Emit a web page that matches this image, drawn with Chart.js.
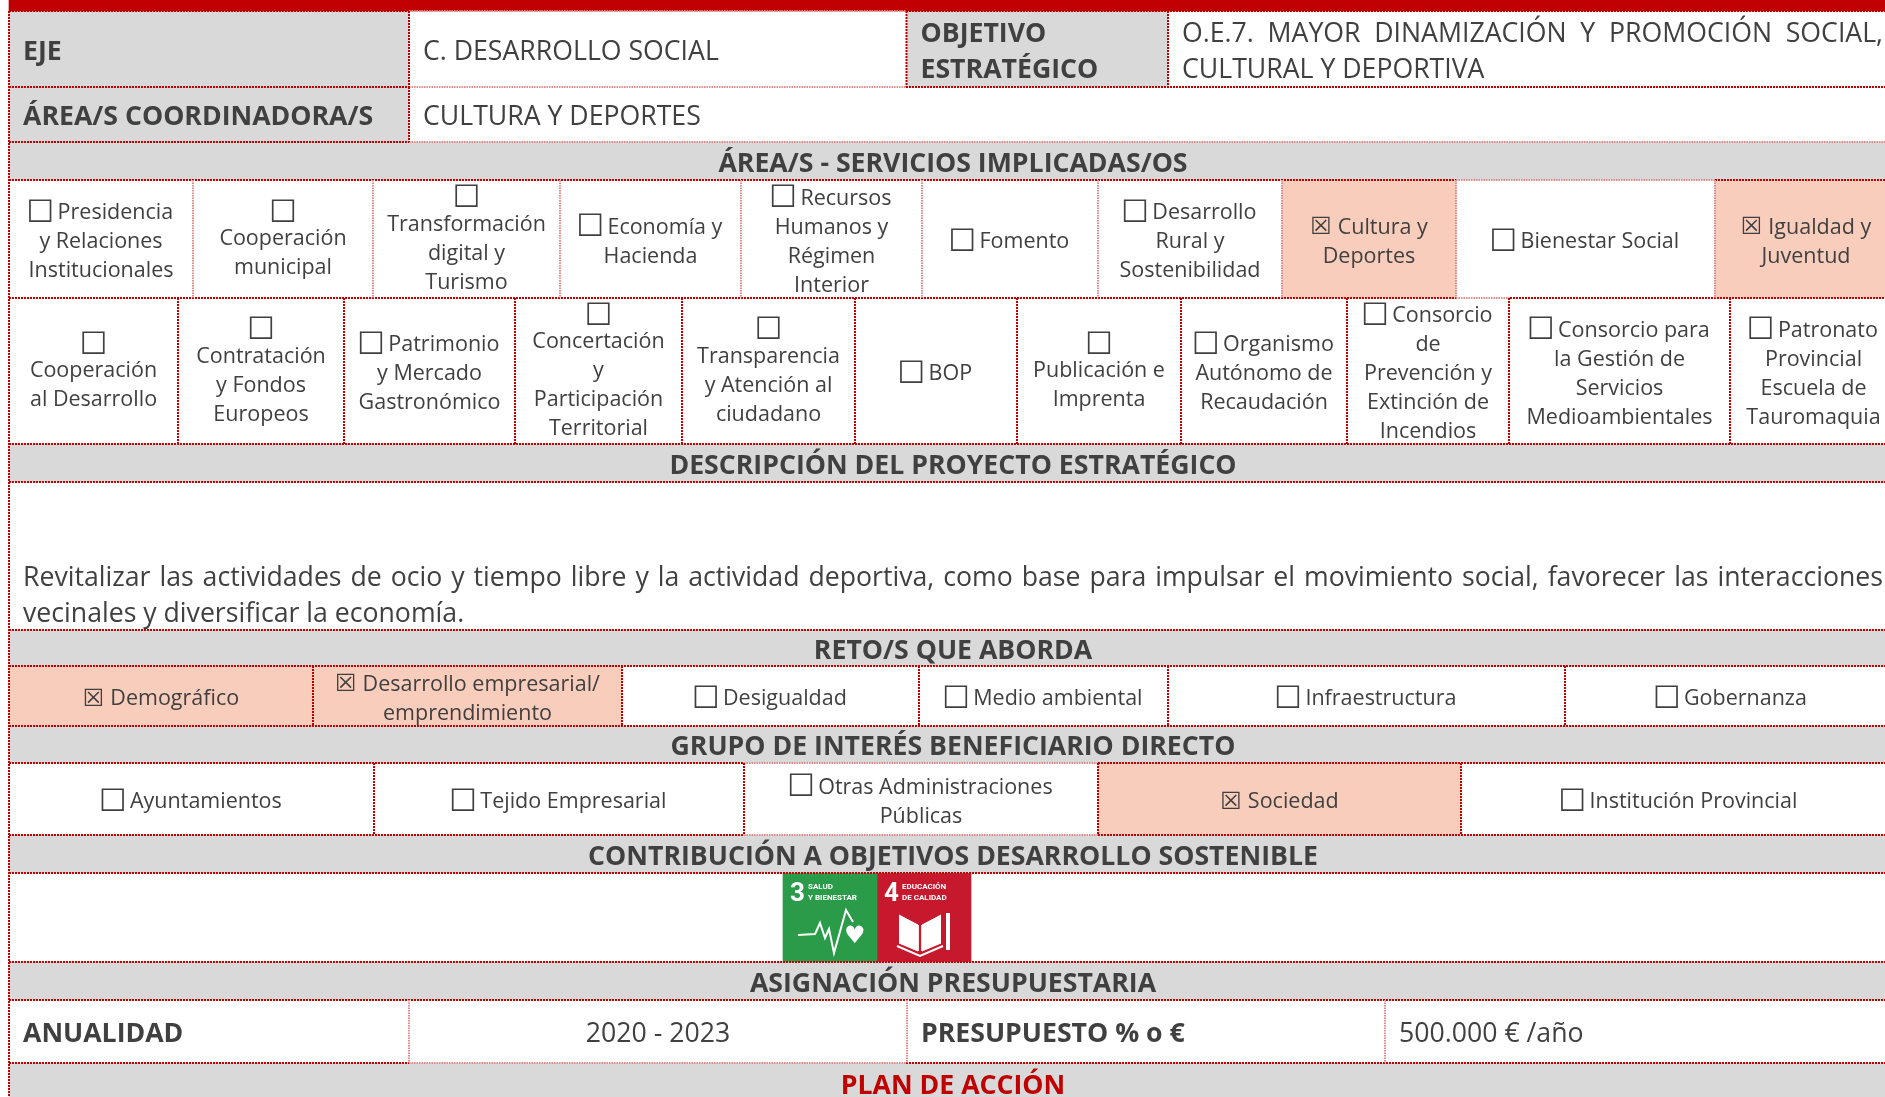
<!DOCTYPE html>
<html lang="es">
<head>
<meta charset="utf-8">
<title>Proyecto estratégico</title>
<script src="https://cdn.jsdelivr.net/npm/chart.js@4/dist/chart.umd.js"></script>
<style>
  html, body { margin: 0; padding: 0; background: #fff; overflow: hidden; }
  canvas { display: block; }
</style>
</head>
<body>
<canvas id="sheet" width="1885" height="1097"></canvas>
<script>
// Row limits on the y axis (top to bottom)
const rowLimits = [0, 11, 87, 142, 180, 298, 444, 482, 630, 666, 726, 763, 835, 873, 962, 1000, 1063, 1097];

// Column limits on the x axis for each row, and what is written in the cells
const topEdges = [9, 409, 906.5, 1168, 1897];
const topLabels = ['EJE', 'C. DESARROLLO SOCIAL', 'OBJETIVO\nESTRATÉGICO', 'O.E.7. MAYOR DINAMIZACIÓN Y PROMOCIÓN SOCIAL,\nCULTURAL Y DEPORTIVA'];
const coordEdges = [9, 409, 1897];
const coordLabels = ['ÁREA/S COORDINADORA/S', 'CULTURA Y DEPORTES'];

const servicesAEdges = [9, 193, 373, 560, 741, 922, 1098, 1282, 1456, 1715, 1897];
const servicesALabels = [
  '☐ Presidencia\ny Relaciones\nInstitucionales', '☐\nCooperación\nmunicipal', '☐\nTransformación\ndigital y\nTurismo',
  '☐ Economía y\nHacienda', '☐ Recursos\nHumanos y\nRégimen\nInterior', '☐ Fomento', '☐ Desarrollo\nRural y\nSostenibilidad',
  '☒ Cultura y\nDeportes', '☐ Bienestar Social', '☒ Igualdad y\nJuventud'
];
const servicesBEdges = [9, 178, 344, 515, 682, 855, 1017, 1181, 1347, 1509, 1730, 1897];
const servicesBLabels = [
  '☐\nCooperación\nal Desarrollo', '☐\nContratación\ny Fondos\nEuropeos', '☐ Patrimonio\ny Mercado\nGastronómico',
  '☐\nConcertación\ny\nParticipación\nTerritorial', '☐\nTransparencia\ny Atención al\nciudadano', '☐ BOP', '☐\nPublicación e\nImprenta',
  '☐ Organismo\nAutónomo de\nRecaudación', '☐ Consorcio\nde\nPrevención y\nExtinción de\nIncendios',
  '☐ Consorcio para\nla Gestión de\nServicios\nMedioambientales', '☐ Patronato\nProvincial\nEscuela de\nTauromaquia'
];
const descriptionLines = 'Revitalizar las actividades de ocio y tiempo libre y la actividad deportiva, como base para impulsar el movimiento social, favorecer las interacciones\nvecinales y diversificar la economía.';
const retoEdges = [9, 313, 622, 919, 1168, 1565, 1897];
const retoLabels = ['☒ Demográfico', '☒ Desarrollo empresarial/\nemprendimiento', '☐ Desigualdad', '☐ Medio ambiental', '☐ Infraestructura', '☐ Gobernanza'];
const grupoEdges = [9, 374, 744, 1098, 1461, 1897];
const grupoLabels = ['☐ Ayuntamientos', '☐ Tejido Empresarial', '☐ Otras Administraciones\nPúblicas', '☒ Sociedad', '☐ Institución Provincial'];
const budgetEdges = [9, 409, 907, 1385, 1897];
const budgetLabels = ['ANUALIDAD', '2020 - 2023', 'PRESUPUESTO % o €', '500.000 € /año'];

const headings = [
  ['ÁREA/S - SERVICIOS IMPLICADAS/OS', 142, 180],
  ['DESCRIPCIÓN DEL PROYECTO ESTRATÉGICO', 444, 482],
  ['RETO/S QUE ABORDA', 630, 666],
  ['GRUPO DE INTERÉS BENEFICIARIO DIRECTO', 726, 763],
  ['CONTRIBUCIÓN A OBJETIVOS DESARROLLO SOSTENIBLE', 835, 873],
  ['ASIGNACIÓN PRESUPUESTARIA', 962, 1000],
  ['PLAN DE ACCIÓN', 1063, 1103]
];

// Dotted rules: [y, from, to, pale]
const horizontalRules = [
  [11, 9, 409, 0], [11, 409, 906, 1], [11, 906, 1885, 0],
  [87, 9, 409, 0], [87, 409, 906, 1], [87, 906, 1885, 0],
  [142, 9, 409, 0], [142, 409, 1885, 1],
  [180, 9, 1456, 0], [180, 1456, 1715, 1], [180, 1715, 1885, 0],
  [298, 9, 1456, 0], [298, 1456, 1510, 1], [298, 1510, 1885, 0],
  [444, 9, 1885, 0], [482, 9, 1885, 0], [630, 9, 1885, 0], [666, 9, 1885, 0], [726, 9, 1885, 0],
  [763, 9, 744, 0], [763, 744, 1098, 1], [763, 1098, 1885, 0],
  [835, 9, 744, 0], [835, 744, 1098, 1], [835, 1098, 1885, 0],
  [873, 9, 1885, 0], [962, 9, 1885, 0], [1000, 9, 1885, 0],
  [1063, 9, 409, 0], [1063, 409, 906, 1], [1063, 906, 1885, 0]
];

// SDG tiles: green "salud", red "educación" and the marks inside them
const tileEdges = [783, 877, 971];
const tileColors = ['#2A9C49', '#C6192D'];
const tileTexts = [['3', 'SALUD', 'Y BIENESTAR'], ['4', 'EDUCACIÓN', 'DE CALIDAD']];
const pulseX = [798, 815, 820, 825, 829, 834, 846, 853];
const pulseY = [935, 934, 923, 938, 929, 953, 910, 922];
const leftPageX = [899, 918, 918, 899];
const rightPageX = [941, 922, 922, 941];
const pageY = [915, 925, 951, 943];
const bookBaseX = [897, 920, 943];
const bookBaseY = [946, 956, 946];
const pencilX = [948, 948];
const pencilY = [913, 950];

const GREY = '#D9D9D9';
const PINK = '#F9CDBC';
const RED = '#C00000';
const INK = '#404040';

const datasets = [];
const cells = [];

// a filled floating bar running from x0 to x1 across a y band
const addBand = (x0, x1, y0, y1, color) => {
  datasets.push({
    type: 'bar',
    indexAxis: 'y',
    grouped: false,
    order: 3,
    data: [{ x: [x0, x1], y: (y0 + y1) / 2 }],
    barThickness: y1 - y0,
    backgroundColor: color,
    borderWidth: 0
  });
};

const addRule = (xs, ys, pale) => {
  datasets.push({
    type: 'line',
    order: 1,
    data: xs.map((x, i) => ({ x, y: ys[i] })),
    borderColor: pale ? '#E58A8A' : RED,
    borderWidth: 2,
    borderDash: pale ? [1.5, 1] : [2, 1],
    pointRadius: 0,
    tension: 0,
    fill: false
  });
};

const addRow = (edges, labels, y0, y1, style = {}) => {
  labels.forEach((text, i) => {
    const x0 = edges[i], x1 = edges[i + 1];
    if (text.startsWith('☒')) addBand(x0, x1, y0, y1, PINK);
    if (i > 0) addRule([x0, x0], [y0, y1], style.paleRules);
    cells.push({ text, x0, x1, y0, y1, size: 21.5, pitch: 29, ...(style.cell ? style.cell(i) : {}) });
  });
};

// Header rows: grey label cells with bold text, plain values beside them
const bigCell = i => ({ size: 26.67, pitch: 36, bold: i % 2 === 0, align: 'left' });

addBand(9, 1897, rowLimits[0], rowLimits[1], RED);
addBand(topEdges[0], topEdges[1], 11, 87, GREY);
addBand(topEdges[2], topEdges[3], 11, 87, GREY);
addBand(coordEdges[0], coordEdges[1], 87, 142, GREY);
headings.forEach(h => addBand(9, 1897, h[1], h[2], GREY));

addRow(topEdges, topLabels, 11, 87, { cell: i => ({ ...bigCell(i), justify: i === 3 }) });
addRow(coordEdges, coordLabels, 87, 142, { cell: bigCell });
addRow(servicesAEdges, servicesALabels, 180, 298, { paleRules: true });
addRow(servicesBEdges, servicesBLabels, 298, 444);
addRow(retoEdges, retoLabels, 666, 726);
addRow(grupoEdges, grupoLabels, 763, 835);
addRow(budgetEdges, budgetLabels, 1000, 1063, {
  paleRules: true,
  cell: i => ({ size: 26.67, pitch: 36, bold: i % 2 === 0, align: i === 1 ? 'center' : 'left' })
});

cells.push({ text: descriptionLines, x0: 9, x1: 1897, y0: 556, y1: 630, size: 26.67, pitch: 36, align: 'left', justify: true });
headings.forEach(h => cells.push({ text: h[0], x0: 9, x1: 1897, y0: h[1], y1: h[2], size: 26.67, pitch: 36, bold: true, color: h[0] === 'PLAN DE ACCIÓN' ? RED : INK }));

horizontalRules.forEach(r => addRule([r[1], r[2]], [r[0], r[0]], r[3]));
addRule([9, 9], [11, 1097], false);

// SDG tiles
tileColors.forEach((c, i) => addBand(tileEdges[i], tileEdges[i + 1], 873, 962, c));
const whiteLine = (xs, ys, width, filled) => datasets.push({
  type: 'line',
  order: 0,
  data: xs.map((x, i) => ({ x, y: ys[i] })),
  borderColor: '#fff',
  borderWidth: width,
  backgroundColor: '#fff',
  pointRadius: 0,
  fill: filled ? 'shape' : false
});
whiteLine(pulseX, pulseY, 2);
whiteLine(leftPageX, pageY, 1, true);
whiteLine(rightPageX, pageY, 1, true);
whiteLine(bookBaseX, bookBaseY, 2);
whiteLine(pencilX, pencilY, 4);

const FONT = '"Open Sans", sans-serif';
const BOX_FONT = '"DejaVu Sans", sans-serif';
const BOX_LINE = 23; // a line holding only a checkbox is shorter than a text line

// Writes every cell, placing it through the chart scales
const cellText = {
  id: 'cellText',
  afterDatasetsDraw(chart) {
    const { ctx, scales: { x, y } } = chart;
    ctx.save();
    ctx.textBaseline = 'middle';
    cells.forEach(cell => {
      const lines = cell.text.split('\n');
      const left = x.getPixelForValue(cell.x0);
      const right = x.getPixelForValue(cell.x1);
      const middle = (y.getPixelForValue(cell.y0) + y.getPixelForValue(cell.y1)) / 2;
      const font = `${cell.bold ? '700' : '400'} ${cell.size}px ${FONT}`;
      const heights = lines.map(l => (l === '☐' ? BOX_LINE : cell.pitch));
      let top = middle - heights.reduce((a, b) => a + b, 0) / 2;
      ctx.fillStyle = cell.color || INK;
      lines.forEach((line, i) => {
        const yPos = top + heights[i] / 2 + 3;
        top += heights[i];
        const box = line[0] === '☐' || line[0] === '☒' ? line[0] : '';
        const rest = box ? line.slice(1).trim() : line;
        ctx.font = font;
        const restWidth = ctx.measureText(rest).width;
        // the empty box is drawn a little larger than the crossed one, as in the sheet
        ctx.font = `${box === '☐' ? 31 : 24}px ${BOX_FONT}`;
        const boxAdvance = box ? ctx.measureText(box).width : 0;
        const boxWidth = !box ? 0 : !rest ? boxAdvance : box === '☐' ? boxAdvance + 1 : boxAdvance + 6;
        ctx.textAlign = 'left';
        let cursor = cell.align === 'left' ? left + 14 : (left + right) / 2 - (boxWidth + restWidth) / 2;
        if (box) {
          ctx.fillText(box, box === '☐' && rest ? cursor - 2.5 : cursor, yPos + 0.5);
          cursor += boxWidth;
        }
        ctx.font = font;
        if (cell.justify && i === 0) {
          // stretch the word gaps so the line reaches the right margin, as in the sheet
          const words = rest.split(' ');
          const inked = words.reduce((sum, w) => sum + ctx.measureText(w).width, 0);
          const gap = (x.getPixelForValue(1883) - cursor - inked) / (words.length - 1);
          words.forEach(w => {
            ctx.fillText(w, cursor, yPos);
            cursor += ctx.measureText(w).width + gap;
          });
        } else {
          ctx.fillText(rest, cursor, yPos);
        }
      });
    });

    // lettering on the SDG tiles
    ctx.fillStyle = '#fff';
    tileTexts.forEach((t, i) => {
      const tx = x.getPixelForValue(tileEdges[i]);
      ctx.font = `700 26px Roboto, sans-serif`;
      ctx.fillText(t[0], tx + 7, y.getPixelForValue(894));
      ctx.font = `700 8px Roboto, sans-serif`;
      ctx.fillText(t[1], tx + 25, y.getPixelForValue(887));
      ctx.fillText(t[2], tx + 25, y.getPixelForValue(898));
    });
    ctx.font = `24px ${BOX_FONT}`;
    ctx.fillText('♥', x.getPixelForValue(844), y.getPixelForValue(937));
    ctx.restore();
  }
};

new Chart(document.getElementById('sheet'), {
  data: { datasets },
  options: {
    responsive: false,
    animation: false,
    events: [],
    layout: { padding: 0 },
    scales: {
      x: { type: 'linear', min: 0, max: 1885, display: false, offset: false },
      y: { type: 'linear', min: 0, max: 1097, reverse: true, display: false, offset: false }
    },
    plugins: { legend: { display: false }, tooltip: { enabled: false } }
  },
  plugins: [cellText]
});
</script>
</body>
</html>
